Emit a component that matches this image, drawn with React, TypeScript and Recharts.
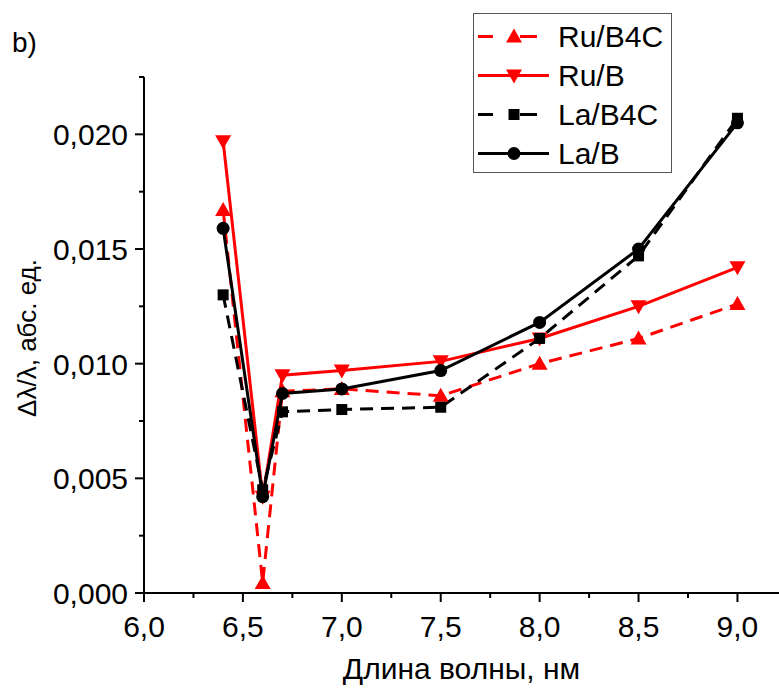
import {
  LineChart,
  Line,
  XAxis,
  YAxis,
  Label,
} from "recharts";

const wavelengths = [6.4, 6.6, 6.7, 7.0, 7.5, 8.0, 8.5, 9.0];
const ruB4C = [0.0167, 0.00044, 0.0088, 0.0089, 0.0086, 0.01, 0.0111, 0.0126];
const ruB = [0.0197, 0.0042, 0.0095, 0.0097, 0.0101, 0.0111, 0.0125, 0.0142];
const laB4C = [0.013, 0.0045, 0.0079, 0.008, 0.0081, 0.0111, 0.0147, 0.0207];
const laB = [0.0159, 0.0042, 0.0087, 0.0089, 0.0097, 0.0118, 0.015, 0.0205];

const xMajor = [6.0, 6.5, 7.0, 7.5, 8.0, 8.5, 9.0];
const xTicks = [6.0, 6.25, 6.5, 6.75, 7.0, 7.25, 7.5, 7.75, 8.0, 8.25, 8.5, 8.75, 9.0];
const yMajor = [0, 0.005, 0.01, 0.015, 0.02];
const yTicks = [0, 0.0025, 0.005, 0.0075, 0.01, 0.0125, 0.015, 0.0175, 0.02, 0.0225];

const data = wavelengths.map((x, i) => ({
  x,
  ruB4C: ruB4C[i],
  ruB: ruB[i],
  laB4C: laB4C[i],
  laB: laB[i],
}));

const FONT = "'Liberation Sans', Arial, sans-serif";
const DASH = "13 8";

type Shape = "up" | "down" | "square" | "circle";

const series: { key: string; name: string; color: string; dashed: boolean; shape: Shape }[] = [
  { key: "ruB4C", name: "Ru/B4C", color: "#ff0000", dashed: true, shape: "up" },
  { key: "ruB", name: "Ru/B", color: "#ff0000", dashed: false, shape: "down" },
  { key: "laB4C", name: "La/B4C", color: "#000000", dashed: true, shape: "square" },
  { key: "laB", name: "La/B", color: "#000000", dashed: false, shape: "circle" },
];

const isMajor = (v: number, list: number[]) => list.some((m) => Math.abs(m - v) < 1e-9);

const Marker = ({ cx, cy, shape, color }: { cx: number; cy: number; shape: Shape; color: string }) => {
  if (shape === "up")
    return <polygon points={`${cx},${cy - 8} ${cx - 8},${cy + 6} ${cx + 8},${cy + 6}`} fill={color} />;
  if (shape === "down")
    return <polygon points={`${cx},${cy + 8} ${cx - 8},${cy - 6} ${cx + 8},${cy - 6}`} fill={color} />;
  if (shape === "square") return <rect x={cx - 5.5} y={cy - 5.5} width={11} height={11} fill={color} />;
  return <circle cx={cx} cy={cy} r={6.5} fill={color} />;
};

const XTick = (props: any) => {
  const { x, y, payload } = props;
  const major = isMajor(payload.value, xMajor);
  return (
    <g>
      <line x1={x} y1={y} x2={x} y2={y + (major ? 9 : 5)} stroke="#000" strokeWidth={2} />
      {major && (
        <text x={x} y={y + 44} textAnchor="middle" fontSize={30} fontFamily={FONT} fill="#000">
          {payload.value.toFixed(1).replace(".", ",")}
        </text>
      )}
    </g>
  );
};

const YTick = (props: any) => {
  const { x, y, payload } = props;
  const major = isMajor(payload.value, yMajor);
  return (
    <g>
      <line x1={x} y1={y} x2={x - (major ? 9 : 5)} y2={y} stroke="#000" strokeWidth={2} />
      {major && (
        <text x={x - 16} y={y + 11} textAnchor="end" fontSize={30} fontFamily={FONT} fill="#000">
          {payload.value.toFixed(3).replace(".", ",")}
        </text>
      )}
    </g>
  );
};

const LegendBox = () => (
  <div
    style={{
      position: "absolute",
      left: 473,
      top: 13,
      width: 197,
      height: 155,
      border: "1px solid #555",
      background: "#fff",
      fontFamily: FONT,
      fontSize: 30,
      paddingTop: 3,
      boxSizing: "content-box",
      zIndex: 2,
    }}
  >
    {series.map((s) => (
      <div key={s.key} style={{ display: "flex", alignItems: "center", height: 39 }}>
        <svg width={84} height={39}>
          {s.dashed ? (
            <>
              <line x1={4} y1={19.5} x2={19} y2={19.5} stroke={s.color} strokeWidth={3} />
              <line x1={46} y1={19.5} x2={63} y2={19.5} stroke={s.color} strokeWidth={3} />
            </>
          ) : (
            <line x1={4} y1={19.5} x2={75} y2={19.5} stroke={s.color} strokeWidth={3} />
          )}
          <Marker cx={40} cy={19.5} shape={s.shape} color={s.color} />
        </svg>
        <span style={{ lineHeight: "39px" }}>{s.name}</span>
      </div>
    ))}
  </div>
);

const YTitle = (props: any) => {
  const { viewBox } = props;
  const cx = viewBox.x + 27;
  const cy = viewBox.y + viewBox.height / 2 + 3;
  return (
    <text
      x={cx}
      y={cy}
      transform={`rotate(-90, ${cx}, ${cy})`}
      textAnchor="middle"
      dominantBaseline="central"
      fontSize={26}
      fontFamily={FONT}
      fill="#000"
    >
      Δλ/λ, абс. ед.
    </text>
  );
};

const XTitle = (props: any) => {
  const { viewBox } = props;
  return (
    <text
      x={viewBox.x + viewBox.width / 2}
      y={viewBox.y + 86}
      textAnchor="middle"
      fontSize={30}
      fontFamily={FONT}
      fill="#000"
    >
      Длина волны, нм
    </text>
  );
};

const App = () => {
  return (
    <div style={{ position: "relative", width: 779, height: 691, background: "#fff" }}>
      <style>{"body{margin:0}"}</style>
      <div
        style={{
          position: "absolute",
          left: 12,
          top: 29,
          fontFamily: FONT,
          fontSize: 28,
          lineHeight: 1,
          zIndex: 2,
        }}
      >
        b)
      </div>
      <LegendBox />
      <LineChart width={779} height={691} data={data} margin={{ top: 77, right: 0, bottom: 0, left: 0 }}>
        <XAxis
          dataKey="x"
          type="number"
          domain={[6, 9.21]}
          ticks={xTicks}
          interval={0}
          tick={<XTick />}
          tickLine={false}
          tickSize={0}
          tickMargin={0}
          height={98}
          axisLine={{ stroke: "#000", strokeWidth: 2 }}
          allowDataOverflow
        >
          <Label content={<XTitle />} />
        </XAxis>
        <YAxis
          type="number"
          domain={[0, 0.0225]}
          ticks={yTicks}
          interval={0}
          tick={<YTick />}
          tickLine={false}
          tickSize={0}
          tickMargin={0}
          width={144}
          axisLine={{ stroke: "#000", strokeWidth: 2 }}
          allowDataOverflow
        >
          <Label content={<YTitle />} />
        </YAxis>
        {series.map((s) => (
          <Line
            key={s.key}
            dataKey={s.key}
            name={s.name}
            type="linear"
            stroke={s.color}
            strokeWidth={3}
            strokeDasharray={s.dashed ? DASH : undefined}
            isAnimationActive={false}
            dot={(p: any) => <Marker key={`${s.key}-${p.index}`} cx={p.cx} cy={p.cy} shape={s.shape} color={s.color} />}
            activeDot={false}
          />
        ))}
      </LineChart>
    </div>
  );
};

export default App;
